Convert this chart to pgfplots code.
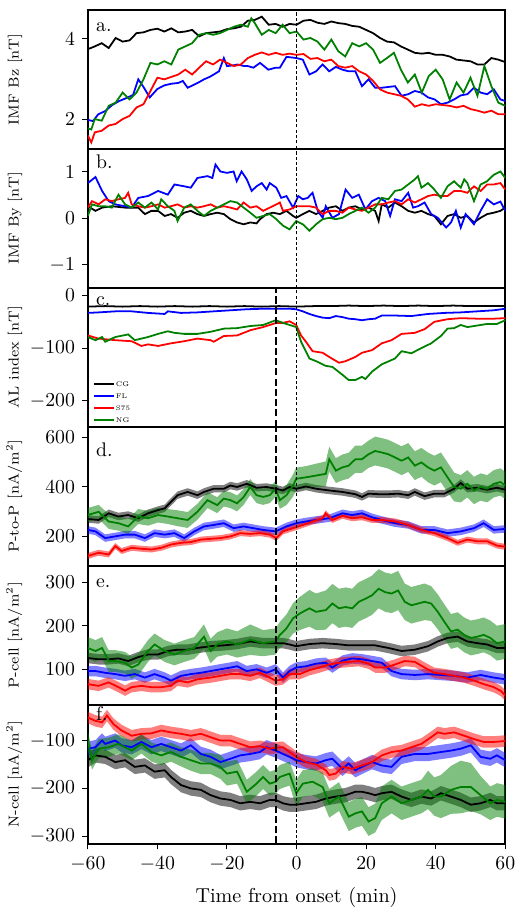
\documentclass[border=0pt]{standalone}
\usepackage{pgfplots}
\usepackage{pgfplotstable}
\pgfplotsset{compat=1.18}
\usepgfplotslibrary{fillbetween}

\definecolor{cg}{RGB}{0,0,0}
\definecolor{fl}{RGB}{0,0,255}
\definecolor{sf}{RGB}{255,0,0}
\definecolor{ng}{RGB}{0,128,0}

% ---- panel d: P-to-P ----
\pgfplotstableread{
x y
-60 270
-56.9 266
-54.0 293
-51.2 280
-48.4 286
-45.5 273
-42.7 293
-39.8 306
-37.9 313
-36.1 339
-34.2 366
-31.3 379
-28.5 366
-26.6 379
-23.8 392
-20.9 392
-19.0 405
-17.1 399
-14.3 412
-11.5 396
-8.6 399
-6.0 392
-3.9 385
-2.0 399
-0.1 392
2.7 401
5.6 392
9.4 385
13.2 379
16.9 370
18.8 359
20.7 372
23.6 370
26.4 370
29.2 372
32.1 366
34.0 379
36.8 362
39.6 372
42.5 372
45.3 392
47.2 415
49.1 392
52.0 396
54.8 388
57.6 396
60 388
}\tdcg
\pgfplotstableread{
x y
-60 226
-57.8 220
-55.0 193
-52.1 200
-49.3 207
-46.5 207
-43.6 193
-40.8 213
-37.9 207
-35.1 213
-32.3 193
-29.4 220
-26.6 240
-23.8 246
-20.9 253
-18.1 233
-15.2 240
-12.4 233
-9.6 226
-6.0 220
-2.9 240
-0.1 253
2.7 260
5.6 266
9.4 273
13.2 293
16.0 286
18.8 293
21.7 277
24.5 266
28.3 253
32.1 246
35.9 226
39.6 226
43.4 213
47.2 220
51.0 233
53.8 253
56.7 226
60 230
}\tdfl
\pgfplotstableread{
x y
-60 121
-56.9 134
-54.0 127
-52.1 161
-50.3 141
-47.4 154
-44.6 150
-41.7 147
-38.9 154
-36.1 167
-33.2 174
-30.4 177
-27.5 187
-24.7 190
-21.9 193
-19.0 200
-16.2 213
-13.3 210
-10.5 213
-7.7 207
-5.8 193
-3.9 220
-1.0 233
1.8 246
4.6 260
7.5 273
8.4 293
10.3 266
13.2 283
16.0 273
18.8 277
21.7 266
24.5 266
28.3 260
32.1 246
35.9 226
39.6 213
43.4 193
46.3 174
49.1 187
52.0 180
54.8 180
57.6 163
60 158
}\tdsf
\pgfplotstableread{
x y e
-60 286 28
-56.9 299 28
-54.0 260 30
-51.2 253 30
-48.4 240 30
-45.5 280 30
-42.7 273 30
-39.8 286 30
-37.0 280 30
-34.2 273 32
-31.3 266 32
-28.5 299 32
-25.6 346 32
-22.8 326 32
-20.9 352 32
-19.0 346 32
-17.1 333 32
-15.2 359 32
-13.3 399 32
-11.5 366 32
-9.6 359 32
-7.7 366 32
-6.0 392 32
-4.8 346 35
-2.9 366 40
-1.0 405 45
-0.1 432 45
2.7 438 45
5.6 445 48
8.4 452 50
9.4 511 50
11.3 465 50
13.2 478 52
15.0 485 52
16.9 511 55
18.8 511 55
20.7 531 55
22.6 544 58
24.5 538 58
26.4 531 58
28.3 518 58
30.2 505 58
32.1 518 58
34.0 485 58
35.9 498 58
37.8 478 60
39.6 465 60
41.5 478 60
43.4 438 60
45.3 399 58
47.2 392 55
49.1 412 55
51.0 385 55
52.9 399 55
54.8 392 55
56.7 412 55
58.6 419 55
60 405 55
}\tdng

% ---- panel e: P-cell ----
\pgfplotstableread{
x y
-60 126
-56.9 123
-54.0 123
-51.2 125
-48.4 119
-45.5 128
-42.7 134
-39.8 134
-37.0 142
-34.2 145
-31.3 145
-28.5 149
-24.7 153
-20.9 155
-17.1 158
-13.3 164
-9.6 160
-6.0 160
-3.9 160
-2.0 157
-0.1 153
3.7 158
7.5 160
11.3 158
15.0 155
18.8 155
22.6 155
26.4 149
30.2 142
34.0 145
37.8 153
40.6 164
43.4 172
46.3 175
49.1 164
52.0 160
54.8 157
57.6 149
60 149
}\tecg
\pgfplotstableread{
x y
-60 96
-57.8 96
-55.0 92
-52.1 89
-49.3 85
-46.5 89
-43.6 81
-40.8 89
-37.9 81
-36.1 74
-33.2 85
-30.4 89
-27.5 92
-24.7 96
-21.9 100
-19.0 104
-17.1 107
-14.3 96
-11.5 100
-8.6 92
-6.0 100
-3.9 81
-2.0 96
-0.1 104
2.7 107
5.6 113
8.4 115
10.3 104
13.2 120
16.0 125
18.8 123
21.7 119
24.5 115
27.3 96
30.2 89
34.0 87
37.8 89
41.5 87
45.3 85
49.1 81
52.9 87
56.7 81
60 77
}\tefl
\pgfplotstableread{
x y
-60 66
-56.9 62
-54.0 70
-51.2 59
-49.3 51
-47.4 59
-44.6 62
-41.7 59
-38.9 59
-36.1 62
-34.2 74
-31.3 70
-28.5 77
-24.7 81
-21.9 85
-19.0 89
-16.2 89
-13.3 85
-10.5 92
-6.0 74
-3.9 77
-2.0 89
0.9 89
3.7 98
6.5 104
9.4 111
12.2 115
15.0 117
17.9 119
20.7 113
22.6 104
25.5 104
28.3 111
31.1 119
34.0 117
36.8 104
39.6 92
42.5 89
45.3 85
48.2 81
51.0 74
53.8 66
56.7 59
58.6 51
60 40
}\tesf
\pgfplotstableread{
x y e
-60 149 25
-57.8 142 25
-55.9 149 25
-54.0 119 25
-52.1 119 25
-49.3 115 25
-47.4 104 25
-45.5 111 25
-42.7 142 25
-40.8 157 25
-37.9 142 25
-35.1 134 25
-32.3 142 25
-29.4 149 25
-26.6 175 28
-24.7 142 28
-22.8 157 28
-20.0 164 30
-17.1 157 30
-13.3 168 35
-9.6 160 30
-6.0 164 30
-4.8 179 30
-2.9 194 32
-1.0 217 35
0.9 228 38
3.7 240 42
5.6 232 42
8.4 236 45
10.3 251 45
12.2 240 45
14.1 243 45
16.0 240 45
17.9 255 45
19.8 262 45
21.7 270 45
23.6 285 45
25.5 277 45
27.3 274 45
29.2 281 45
31.1 255 42
33.0 247 42
34.9 251 42
36.8 255 42
38.7 251 40
40.6 232 40
42.5 209 40
44.4 187 40
46.3 191 40
48.2 179 40
50.1 172 40
52.0 175 40
53.8 179 40
55.7 172 40
57.6 160 40
60 164 40
}\teng

% ---- panel f: N-cell ----
\pgfplotstableread{
x y
-60 -141
-57.8 -131
-55.0 -134
-52.1 -145
-49.3 -141
-46.5 -155
-43.6 -152
-40.8 -165
-37.9 -162
-36.1 -176
-33.2 -193
-30.4 -200
-27.5 -203
-24.7 -214
-21.9 -221
-19.0 -224
-16.2 -231
-13.3 -228
-10.5 -231
-7.7 -224
-6.0 -224
-3.9 -231
-2.0 -234
-0.1 -234
2.7 -231
5.6 -228
8.4 -221
11.3 -217
14.1 -214
16.9 -207
18.8 -207
20.7 -210
22.6 -214
24.5 -210
27.3 -207
30.2 -217
33.0 -224
35.9 -217
38.7 -221
41.5 -210
44.4 -217
47.2 -224
50.1 -234
52.9 -231
55.7 -224
57.6 -231
60 -231
}\tfcg
\pgfplotstableread{
x y
-60 -117
-57.8 -114
-55.9 -100
-55.0 -107
-52.1 -100
-50.3 -110
-47.4 -114
-44.6 -103
-41.7 -114
-38.9 -107
-36.1 -114
-33.2 -121
-30.4 -110
-27.5 -128
-24.7 -134
-21.9 -145
-19.0 -138
-16.2 -131
-13.3 -128
-10.5 -124
-8.6 -114
-6.0 -121
-3.9 -128
-2.0 -134
-0.1 -141
2.7 -145
5.6 -148
8.4 -141
10.3 -138
13.2 -159
15.0 -148
16.9 -162
18.8 -155
21.7 -145
24.5 -152
27.3 -155
30.2 -134
34.0 -128
37.8 -128
41.5 -124
44.4 -121
47.2 -117
50.1 -110
52.9 -134
55.7 -138
57.6 -131
60 -141
}\tffl
\pgfplotstableread{
x y
-60 -52
-57.8 -59
-55.9 -62
-54.5 -48
-52.6 -66
-50.3 -79
-47.4 -90
-44.6 -86
-41.7 -85
-38.9 -79
-36.1 -83
-33.2 -86
-30.4 -90
-27.5 -86
-24.7 -93
-21.9 -100
-19.0 -100
-16.2 -107
-13.3 -114
-10.5 -112
-7.7 -117
-6.0 -115
-3.9 -114
-2.0 -124
-0.1 -134
2.7 -145
5.6 -150
8.4 -162
9.4 -172
11.3 -169
13.2 -155
16.0 -159
18.8 -152
21.7 -145
24.5 -131
27.3 -124
30.2 -121
33.0 -114
35.9 -107
38.7 -93
40.6 -83
42.5 -86
45.3 -83
48.2 -90
51.0 -97
53.8 -103
56.7 -103
60 -101
}\tfsf
\pgfplotstableread{
x y e
-60 -100 20
-58.8 -141 20
-56.9 -117 20
-54.0 -114 20
-51.2 -107 20
-47.4 -121 20
-44.6 -107 20
-41.7 -124 20
-38.9 -131 20
-36.1 -124 20
-33.2 -134 20
-30.4 -141 22
-27.5 -148 22
-24.7 -148 22
-21.9 -155 25
-20.0 -169 25
-17.1 -165 25
-14.3 -207 25
-11.5 -190 25
-9.6 -176 25
-7.7 -190 25
-6.0 -186 25
-4.8 -176 25
-2.0 -169 25
-0.1 -210 28
1.8 -190 28
4.6 -186 28
7.5 -197 30
9.4 -231 30
12.2 -217 30
15.0 -259 30
16.9 -252 30
18.8 -248 30
20.7 -269 30
22.6 -262 30
24.5 -231 35
27.3 -217 35
30.2 -231 35
33.0 -224 35
35.9 -217 35
37.8 -203 40
39.6 -217 40
41.5 -217 45
44.4 -203 50
47.2 -197 55
50.1 -197 50
52.9 -214 40
55.7 -231 35
57.6 -224 35
60 -228 35
}\tfng

% band (mean +- spread) and its line
\newcommand{\bandline}[4]{%
  \addplot[draw=none, name path=U#3, forget plot] table[x=x, y expr=\thisrow{y}+#4] {#1};
  \addplot[draw=none, name path=L#3, forget plot] table[x=x, y expr=\thisrow{y}-#4] {#1};
  \addplot[fill=#2, fill opacity=0.5, draw=none, forget plot] fill between[of=U#3 and L#3];
  \addplot[#2, ln] table[x=x, y=y] {#1};
}

\newcommand{\onset}{%
  \draw[black, line width=0.4pt, dash pattern=on 1.6pt off 1.1pt]
    ({axis cs:0,0}|-{rel axis cs:0,0}) -- ({axis cs:0,0}|-{rel axis cs:0,1});}
\newcommand{\sixmin}{%
  \draw[black, line width=1.1pt, dash pattern=on 3.6pt off 1.6pt]
    ({axis cs:-6,0}|-{rel axis cs:0,0}) -- ({axis cs:-6,0}|-{rel axis cs:0,1});}

\pgfplotsset{
  panel/.style={
    scale only axis, width=211.5pt, height=70.4pt,
    xmin=-60, xmax=60, xtick=\empty,
    axis line style={line width=1pt},
    tick style={line width=0.5pt, black},
    tick align=outside, ytick pos=left,
    major tick length=3pt,
    tick label style={font=\fontsize{10}{12}\selectfont},
    ylabel style={font=\fontsize{7.3}{8}\selectfont,
      at={([xshift=-33pt]rel axis cs:0,0.5)}, anchor=south, inner sep=0pt},
  },
  ln/.style={line width=0.9pt},
}
\newcommand{\plabel}[2]{\node[anchor=base west, inner sep=0pt,
  font=\fontsize{10}{12}\selectfont] at (rel axis cs:0.019,#1) {#2};}

\begin{document}
\begin{tikzpicture}

% a. IMF Bz
\begin{axis}[panel, name=pa, ymin=1.26, ymax=4.72, ytick={2,4},
  ylabel={IMF Bz [nT]}]
\addplot[cg, ln] coordinates {(-60,3.74)(-58,3.81)(-56,3.89)(-54,3.77)(-52,4.02)(-50,3.93)(-48,3.96)(-46,4.14)(-44,4.16)(-42,4.22)(-40,4.25)(-38,4.18)(-36,4.26)(-34,4.16)(-32,4.18)(-30,4.22)(-28,4.06)(-26,4.14)(-24,4.16)(-22,4.18)(-20,4.24)(-18,4.26)(-16,4.30)(-14,4.45)(-12,4.47)(-10,4.55)(-8,4.35)(-6,4.37)(-4,4.30)(-2,4.37)(0,4.35)(2,4.45)(4,4.47)(6,4.40)(8,4.37)(10,4.43)(12,4.39)(14,4.37)(16,4.32)(18,4.30)(20,4.22)(22,4.14)(24,4.02)(26,3.93)(28,3.91)(30,3.81)(32,3.73)(34,3.65)(36,3.63)(38,3.65)(40,3.60)(42,3.60)(44,3.56)(46,3.48)(48,3.46)(50,3.44)(52,3.36)(54,3.36)(56,3.52)(58,3.48)(60,3.42)};
\addplot[fl, ln] coordinates {(-60,1.98)(-58.5,1.95)(-57,2.12)(-55,2.20)(-53,2.35)(-51,2.45)(-49,2.52)(-47,2.60)(-45.5,2.99)(-44,2.80)(-42.2,2.54)(-40,2.75)(-38,2.84)(-36,2.88)(-34,2.90)(-32.7,2.95)(-31.3,2.78)(-29.4,2.86)(-28,2.92)(-26.6,2.99)(-25,3.05)(-23.8,3.11)(-22.3,3.19)(-20.9,3.52)(-20,3.32)(-18,3.34)(-17,3.36)(-15,3.32)(-14,3.32)(-12.4,3.28)(-10.5,3.40)(-8.1,3.23)(-6,3.28)(-4.8,3.28)(-2.9,3.55)(0,3.52)(1.8,3.48)(3.7,3.11)(5.6,3.19)(7.5,3.36)(9.4,3.19)(11.3,3.30)(13.2,3.23)(15,3.19)(16.9,3.19)(18.8,2.82)(20.7,2.99)(22.6,2.78)(24.5,2.78)(26.4,2.80)(28.3,2.82)(30.2,2.58)(32.1,2.62)(34,2.70)(35.9,2.66)(37.8,2.54)(39.7,2.49)(41.5,2.37)(43.4,2.41)(45.3,2.49)(47.2,2.59)(49.1,2.62)(51,2.78)(52.9,2.66)(54.8,2.62)(56.7,2.74)(58.6,2.49)(60,2.45)};
\addplot[sf, ln] coordinates {(-60,1.59)(-59,1.42)(-58,1.67)(-56,1.71)(-54,1.84)(-52,1.88)(-50,2.00)(-48,2.08)(-46,2.29)(-44,2.37)(-42,2.70)(-40,3.03)(-38,2.99)(-36,3.05)(-34,3.11)(-32,3.23)(-30,3.11)(-28,3.28)(-26,3.44)(-24,3.36)(-22,3.48)(-20,3.40)(-18,3.32)(-16,3.36)(-14,3.52)(-12,3.60)(-10,3.66)(-8,3.60)(-6,3.65)(-4,3.60)(-2,3.63)(0,3.60)(2,3.62)(4,3.50)(6,3.52)(8,3.44)(10,3.48)(12,3.32)(14,3.28)(16,3.32)(18,3.19)(20,3.11)(22,2.95)(24,2.74)(26,2.66)(28,2.62)(30,2.58)(32,2.49)(34,2.31)(36,2.37)(38,2.33)(40,2.37)(42,2.35)(44,2.33)(46,2.29)(48,2.33)(50,2.25)(52,2.21)(54,2.16)(56,2.21)(58,2.12)(60,2.12)};
\addplot[ng, ln] coordinates {(-60,1.77)(-59,1.74)(-58,2.00)(-56,1.96)(-54,2.33)(-52,2.41)(-50,2.66)(-48,2.49)(-46,2.66)(-44,2.99)(-42,3.40)(-40,3.36)(-38,3.44)(-36,3.36)(-34,3.73)(-32,3.81)(-30,3.89)(-28,4.10)(-26,4.14)(-24,4.10)(-22,4.14)(-20,4.22)(-18,4.30)(-16,4.35)(-14,4.30)(-13,4.51)(-12,4.39)(-10,4.10)(-8,4.22)(-6,4.14)(-4,4.35)(-2,4.14)(0,4.18)(2,3.98)(4,4.02)(6,3.93)(8,3.73)(10,3.98)(12,3.69)(14,3.56)(16,3.89)(18,3.81)(20,3.89)(22,3.73)(24,3.40)(26,3.52)(28,3.65)(30,3.23)(32,2.91)(34,3.11)(36,2.66)(38,3.07)(40,3.23)(42,2.99)(44,2.49)(46,2.91)(48,2.66)(50,3.03)(52,2.58)(54,3.32)(56,2.82)(58,2.41)(60,2.33)};
\onset
\plabel{0.844}{a.}
\end{axis}

% b. IMF By
\begin{axis}[panel, name=pb, at={(pa.south west)}, anchor=north west,
  ymin=-1.5, ymax=1.5, ytick={-1,0,1}, ylabel={IMF By [nT]}]
\addplot[cg, ln] coordinates {(-60,0.26)(-57.8,0.16)(-55.9,0.23)(-53.1,0.26)(-49.3,0.23)(-45.5,0.23)(-43.6,0.09)(-41.7,0.16)(-39.8,0.16)(-37.9,0.05)(-36.1,0.09)(-34.2,0.01)(-32.3,0.12)(-30.4,0.16)(-28.5,0.09)(-26.6,0.05)(-24.7,0.09)(-22.8,0.12)(-20.9,0.09)(-19.0,-0.02)(-17.1,-0.09)(-15.2,-0.13)(-13.3,-0.09)(-11.5,-0.11)(-10.5,-0.02)(-8.6,0.09)(-6.7,0.12)(-4.8,0.09)(-2.9,0.16)(-1.0,0.05)(-0.1,0.01)(1.8,0.09)(3.7,0.16)(5.6,0.09)(7.5,0.16)(9.4,0.23)(11.3,0.26)(13.2,0.16)(15.0,0.23)(16.9,0.26)(18.8,0.19)(20.7,0.23)(22.6,0.16)(23.6,-0.06)(24.5,0.30)(26.4,0.23)(28.3,0.34)(30.2,0.26)(32.1,0.16)(34.0,0.12)(35.9,0.16)(37.8,0.09)(39.6,0.05)(41.5,-0.13)(43.4,0.05)(45.3,0.09)(47.2,0.01)(49.1,0.05)(51.0,-0.09)(52.9,0.01)(54.8,0.09)(56.7,0.12)(58.6,0.16)(60,0.23)};
\addplot[fl, ln] coordinates {(-60,0.76)(-57.8,0.89)(-55.9,0.59)(-54.0,0.37)(-52.1,0.30)(-49.3,0.26)(-47.4,0.23)(-45.5,0.44)(-42.7,0.48)(-39.8,0.59)(-37.0,0.51)(-35.1,0.73)(-32.3,0.69)(-30.4,0.66)(-28.5,0.87)(-25.6,0.91)(-24.2,0.87)(-23.3,1.16)(-21.9,1.01)(-20.0,0.98)(-18.1,1.01)(-17.2,0.80)(-15.8,1.01)(-14.3,0.84)(-12.9,0.59)(-11.5,0.69)(-10.0,0.76)(-8.6,0.62)(-7.7,0.76)(-5.8,0.66)(-4.4,0.44)(-2.9,0.48)(-1.0,0.23)(0.5,0.48)(1.8,0.41)(3.2,0.44)(4.6,0.55)(6.1,0.16)(7.5,0.01)(8.4,0.26)(10.3,0.01)(12.2,0.09)(14.1,0.62)(16.0,0.44)(17.9,0.51)(19.8,0.19)(21.7,0.37)(23.6,0.44)(25.5,0.37)(26.9,0.05)(28.3,0.41)(30.2,0.37)(32.1,0.55)(33.5,0.23)(34.9,0.26)(36.8,0.34)(38.7,0.09)(40.6,0.01)(43.0,-0.20)(44.4,-0.09)(45.8,0.16)(47.2,-0.20)(48.6,0.09)(51.0,-0.13)(52.9,0.16)(54.8,0.41)(56.7,0.30)(58.6,0.36)(60,0.16)};
\addplot[sf, ln] coordinates {(-60,0.23)(-58.8,0.37)(-56.9,0.30)(-55.0,0.41)(-53.1,0.37)(-51.2,0.41)(-49.3,0.44)(-48.4,0.55)(-47.4,0.30)(-45.5,0.26)(-43.6,0.23)(-41.7,0.26)(-39.8,0.30)(-37.9,0.23)(-36.1,0.26)(-34.2,0.30)(-32.3,0.23)(-30.4,0.26)(-28.5,0.23)(-26.6,0.26)(-24.7,0.30)(-22.8,0.23)(-20.9,0.26)(-19.0,0.23)(-17.1,0.19)(-15.2,0.34)(-13.3,0.23)(-11.5,0.26)(-9.6,0.16)(-7.7,0.23)(-5.8,0.30)(-4.8,0.34)(-3.9,0.16)(-2.0,0.19)(-0.1,0.26)(1.8,0.26)(3.7,0.26)(5.6,0.23)(7.5,0.09)(9.4,0.16)(11.3,0.16)(13.2,0.12)(15.0,0.23)(16.9,0.19)(18.8,0.16)(20.7,0.23)(22.6,0.30)(24.5,0.30)(26.4,0.34)(28.3,0.37)(30.2,0.30)(32.1,0.41)(34.0,0.34)(35.9,0.41)(37.8,0.48)(39.6,0.51)(41.5,0.48)(43.4,0.48)(45.3,0.59)(47.2,0.59)(49.1,0.55)(51.0,0.69)(52.9,0.59)(54.8,0.73)(56.7,0.73)(58.6,0.76)(60,0.62)};
\addplot[ng, ln] coordinates {(-60,0.05)(-58.8,0.30)(-56.9,0.26)(-55.0,0.26)(-53.1,0.23)(-51.2,0.51)(-49.3,0.30)(-47.4,0.23)(-45.5,0.34)(-43.6,0.23)(-41.7,0.34)(-39.8,0.19)(-38.9,0.41)(-37.0,0.26)(-35.1,0.16)(-34.2,-0.06)(-32.3,0.23)(-30.4,0.30)(-28.5,0.16)(-26.6,0.05)(-24.7,0.16)(-22.8,0.23)(-20.9,0.30)(-19.0,0.37)(-17.1,0.34)(-15.2,0.23)(-13.3,0.12)(-11.5,0.01)(-9.6,0.05)(-7.7,0.09)(-5.8,-0.02)(-3.9,-0.16)(-2.0,-0.24)(-0.1,-0.06)(1.8,-0.13)(3.7,-0.27)(5.6,-0.13)(7.5,-0.02)(9.4,0.01)(11.3,-0.02)(13.2,0.01)(15.0,0.09)(16.9,0.16)(18.8,0.23)(20.7,0.12)(22.6,0.23)(24.5,0.44)(26.4,0.41)(28.3,0.59)(30.2,0.62)(32.1,0.73)(34.0,0.84)(34.9,0.91)(35.9,0.66)(37.8,0.76)(39.6,0.62)(41.5,0.44)(43.4,0.69)(45.3,0.80)(47.2,0.66)(48.2,0.84)(49.1,0.76)(51.0,0.37)(52.9,0.73)(54.8,0.80)(56.7,0.94)(58.6,1.01)(60,0.87)};
\onset
\plabel{0.858}{b.}
\end{axis}

% c. AL index
\begin{axis}[panel, name=pc, at={(pb.south west)}, anchor=north west,
  ymin=-250, ymax=15, ytick={-200,-100,0}, ylabel={AL index [nT]},
  legend style={at={(rel axis cs:0.012,0.022)}, anchor=south west,
    draw=none, fill=none, inner sep=0pt, font=\fontsize{3.4}{4}\selectfont,
    row sep=2.6pt,
    nodes={inner sep=0.5pt, text height=2.4pt, text depth=0pt}},
  legend cell align=left,
  legend image code/.code={\draw[#1, line width=1pt] (0pt,0pt) -- (10pt,0pt);}]
\addplot[cg, ln] coordinates {(-60,-21)(-55,-20)(-50,-21)(-45,-20)(-40,-21)(-35,-20)(-30,-21)(-25,-20)(-20,-21)(-15,-20)(-10,-21)(-5,-20)(0,-21)(5,-20)(10,-20)(15,-19)(20,-20)(25,-19)(30,-20)(35,-19)(40,-20)(45,-19)(50,-20)(55,-20)(60,-20)};
\addlegendentry{CG}
\addplot[fl, ln] coordinates {(-60,-33)(-56.9,-32)(-52.1,-30)(-47.4,-30)(-42.7,-33)(-37.9,-35)(-37,-30)(-33.2,-33)(-28.5,-32)(-23.8,-30)(-19.0,-28)(-14.3,-26)(-9.6,-25)(-4.8,-25)(-2.0,-25)(-0.1,-26)(1.8,-30)(3.7,-35)(5.6,-39)(7.5,-42)(9.4,-43)(11.3,-39)(13.2,-41)(15.0,-44)(16.9,-45)(18.8,-47)(20.7,-45)(22.6,-44)(24.5,-38)(28.3,-38)(33.0,-39)(37.8,-35)(42.5,-33)(47.2,-32)(52.0,-30)(56.7,-28)(60,-25)};
\addlegendentry{FL}
\addplot[sf, ln] coordinates {(-60,-76)(-56.9,-82)(-52.1,-85)(-47.4,-87)(-44.6,-96)(-42.7,-93)(-39.8,-96)(-36.1,-91)(-32.3,-87)(-28.5,-82)(-24.7,-85)(-23.8,-88)(-20.9,-77)(-17.1,-76)(-13.3,-66)(-9.6,-60)(-5.8,-52)(-3.9,-52)(-2.0,-49)(-0.1,-56)(1.3,-76)(2.7,-88)(4.6,-106)(7.5,-109)(9.4,-117)(12.2,-128)(14.1,-125)(16.9,-117)(18.8,-109)(21.7,-104)(24.5,-91)(27.3,-85)(30.2,-73)(34.0,-71)(36.8,-64)(39.6,-50)(43.4,-45)(47.2,-43)(52.0,-44)(56.7,-44)(60,-43)};
\addlegendentry{S75}
\addplot[ng, ln] coordinates {(-60,-79)(-57.8,-85)(-55.9,-79)(-55.0,-88)(-52.1,-79)(-48.4,-74)(-46.5,-85)(-42.7,-79)(-39.8,-73)(-37.0,-68)(-35.1,-71)(-32.3,-73)(-28.5,-73)(-24.7,-69)(-20.9,-63)(-17.1,-62)(-13.3,-58)(-9.6,-56)(-6.0,-47)(-3.9,-52)(-2.0,-56)(-0.1,-60)(1.3,-88)(3.7,-120)(5.6,-125)(8.4,-134)(10.3,-136)(13.2,-151)(15.0,-161)(16.9,-161)(18.8,-155)(19.8,-159)(21.7,-145)(24.5,-131)(28.3,-120)(30.2,-106)(33.0,-110)(35.9,-100)(38.7,-91)(41.5,-77)(43.4,-63)(45.3,-62)(47.2,-56)(49.1,-60)(52.0,-57)(54.8,-54)(57.6,-54)(60,-47)};
\addlegendentry{NG}
\onset
\sixmin
\plabel{0.872}{c.}
\end{axis}

% d. P-to-P
\begin{axis}[panel, name=pd, at={(pc.south west)}, anchor=north west,
  ymin=82, ymax=642, ytick={200,400,600}, ylabel={P-to-P [nA/m$^2$]}]
\bandline{\tdcg}{cg}{dcg}{15}
\bandline{\tdfl}{fl}{dfl}{15}
\bandline{\tdsf}{sf}{dsf}{12}
\bandline{\tdng}{ng}{dng}{\thisrow{e}}
\onset
\sixmin
\plabel{0.787}{d.}
\end{axis}

% e. P-cell
\begin{axis}[panel, name=pe, at={(pd.south west)}, anchor=north west,
  ymin=19, ymax=338, ytick={100,200,300}, ylabel={P-cell [nA/m$^2$]}]
\bandline{\tecg}{cg}{ecg}{12}
\bandline{\tefl}{fl}{efl}{12}
\bandline{\tesf}{sf}{esf}{12}
\bandline{\teng}{ng}{eng}{\thisrow{e}}
\onset
\sixmin
\plabel{0.844}{e.}
\end{axis}

% f. N-cell
\begin{axis}[panel, name=pf, at={(pe.south west)}, anchor=north west,
  ymin=-315, ymax=-25, ytick={-300,-200,-100}, ylabel={N-cell [nA/m$^2$]},
  xtick={-60,-40,...,60}, xtick pos=bottom,
  xlabel={Time from onset (min)},
  xlabel style={font=\fontsize{10.2}{12}\selectfont, yshift=-1.5pt}]
\bandline{\tfcg}{cg}{fcg}{15}
\bandline{\tffl}{fl}{ffl}{15}
\bandline{\tfsf}{sf}{fsf}{12}
\bandline{\tfng}{ng}{fng}{\thisrow{e}}
\onset
\sixmin
\plabel{0.886}{f.}
\end{axis}

\path ([shift={(-44.5pt,-30pt)}]pf.south west) rectangle ([shift={(6.5pt,5pt)}]pa.north east);
\end{tikzpicture}
\end{document}
